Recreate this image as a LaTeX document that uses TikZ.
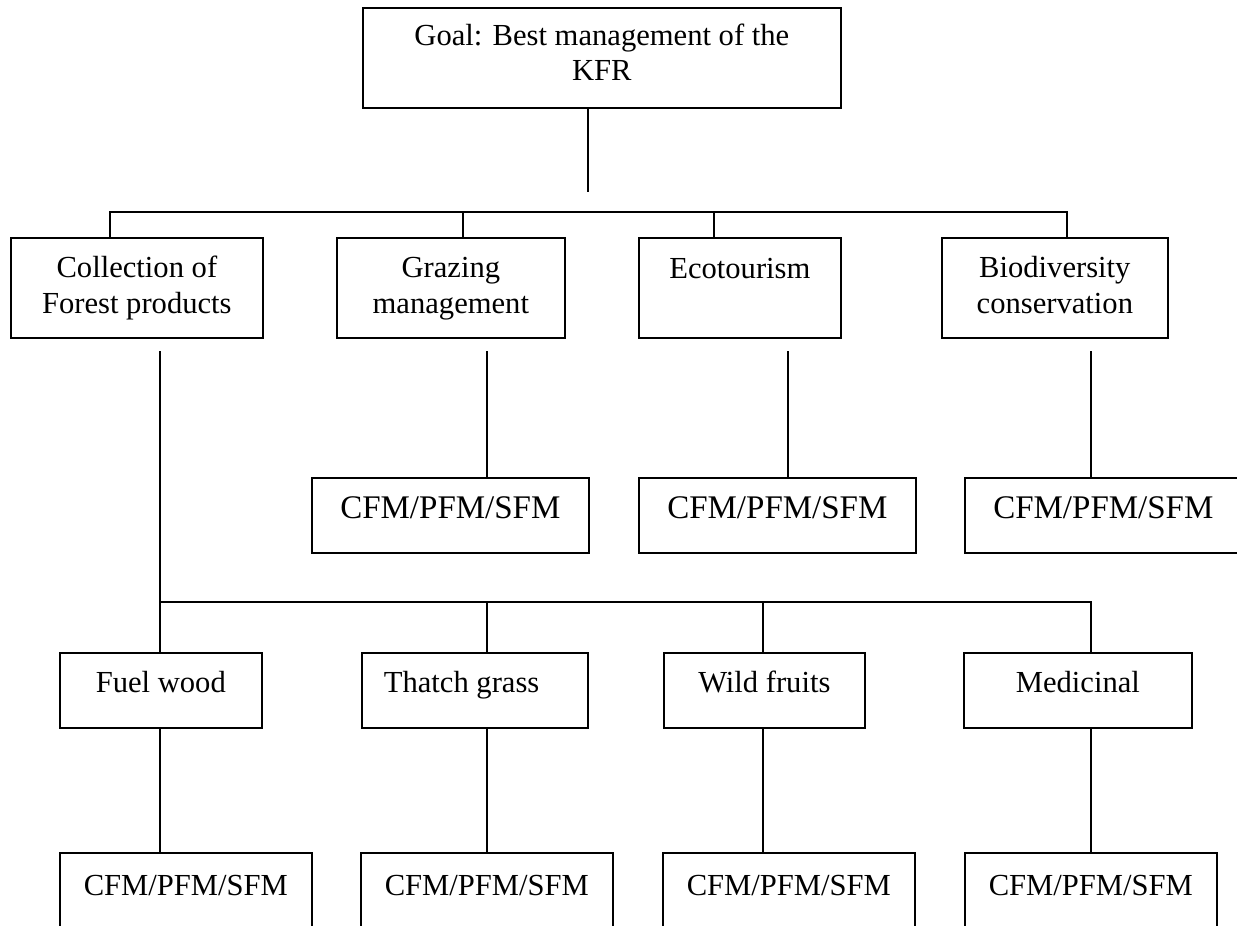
\documentclass[tikz,border=0pt]{standalone}
\usepackage{fontspec}
\setmainfont{Liberation Serif}
\newcommand\boxtxt[4]{\parbox[t][#1pt][t]{#2pt}{\centering\vspace*{#3pt}#4}}
\newcommand\boxtxtl[5]{\parbox[t][#1pt][t]{#2pt}{\raggedright\vspace*{#3pt}\hspace*{#4pt}#5}}
\tikzset{
  box/.style={draw, line width=1.7pt, inner sep=0pt, anchor=north west, font=\fontsize{30.6pt}{36.7pt}\selectfont},
  bigbox/.style={box, font=\fontsize{33pt}{39.6pt}\selectfont},
  goalbox/.style={box, font=\fontsize{30.6pt}{35pt}\selectfont},
  conn/.style={line width=1.7pt}
}
\begin{document}
\begin{tikzpicture}[x=1pt, y=-1pt]
\useasboundingbox (0,0) rectangle (1237,926);
\clip (0,0) rectangle (1237,926);
% goal
\node[goalbox] (goal) at (362,7) {\boxtxt{100}{478}{13.5}{\strut Goal: Best management of the\\\strut KFR}};
% level 1
\node[box] (collect) at (10,237) {\boxtxt{100}{252}{13.5}{\strut Collection of\\\strut Forest products}};
\node[box] (graze) at (336,237) {\boxtxt{100}{228}{13.5}{\strut Grazing\\\strut management}};
\node[box] (eco) at (638,237) {\boxtxt{100}{202}{14.5}{\strut Ecotourism}};
\node[box] (bio) at (941,237) {\boxtxt{100}{226}{13.5}{\strut Biodiversity\\\strut conservation}};
% middle CFM
\node[bigbox] (gcfm) at (311,477) {\boxtxt{75}{277}{13.3}{\strut CFM/PFM/SFM}};
\node[bigbox] (ecfm) at (638,477) {\boxtxt{75}{277}{13.3}{\strut CFM/PFM/SFM}};
\node[bigbox] (bcfm) at (964,477) {\boxtxt{75}{277}{13.3}{\strut CFM/PFM/SFM}};
% level 2
\node[box] (fuel) at (59,652) {\boxtxt{75}{202}{14.3}{\strut Fuel wood}};
\node[box] (thatch) at (361,652) {\boxtxtl{75}{226}{14.3}{22}{\strut Thatch grass}};
\node[box] (wild) at (663,652) {\boxtxt{75}{201}{14.3}{\strut Wild fruits}};
\node[box] (med) at (963,652) {\boxtxt{75}{228}{14.3}{\strut Medicinal}};
% bottom CFM
\node[box] (fcfm) at (59,852) {\boxtxt{100}{252}{17.3}{\strut CFM/PFM/SFM}};
\node[box] (tcfm) at (360,852) {\boxtxt{100}{252}{17.3}{\strut CFM/PFM/SFM}};
\node[box] (wcfm) at (662,852) {\boxtxt{100}{252}{17.3}{\strut CFM/PFM/SFM}};
\node[box] (mcfm) at (964,852) {\boxtxt{100}{252}{17.3}{\strut CFM/PFM/SFM}};
% top connectors
\coordinate (topend) at (588,192);
\draw[conn] (goal.south -| topend) -- (topend);
\coordinate (b1) at (110,212);
\coordinate (b2) at (463,212);
\coordinate (b3) at (714,212);
\coordinate (b4) at (1067,212);
\draw[conn] (collect.north -| b1) -- (b1) -- (b4) -- (bio.north -| b4);
\draw[conn] (b2) -- (graze.north -| b2);
\draw[conn] (b3) -- (eco.north -| b3);
% level 1 to middle CFM (lines start a little below the boxes)
\coordinate (gs) at (487,351);
\coordinate (es) at (788,351);
\coordinate (bs) at (1091,351);
\draw[conn] (gs) -- (gcfm.north -| gs);
\draw[conn] (es) -- (ecfm.north -| es);
\draw[conn] (bs) -- (bcfm.north -| bs);
% forest products branch
\coordinate (cs) at (160,351);
\coordinate (j1) at (160,602);
\coordinate (j2) at (487,602);
\coordinate (j3) at (763,602);
\coordinate (j4) at (1091,602);
\draw[conn] (cs) -- (j1) -- (j4) -- (med.north -| j4);
\draw[conn] (j1) -- (fuel.north -| j1);
\draw[conn] (j2) -- (thatch.north -| j2);
\draw[conn] (j3) -- (wild.north -| j3);
\draw[conn] (fuel.south -| j1) -- (fcfm.north -| j1);
\draw[conn] (thatch.south -| j2) -- (tcfm.north -| j2);
\draw[conn] (wild.south -| j3) -- (wcfm.north -| j3);
\draw[conn] (med.south -| j4) -- (mcfm.north -| j4);
\end{tikzpicture}
\end{document}
